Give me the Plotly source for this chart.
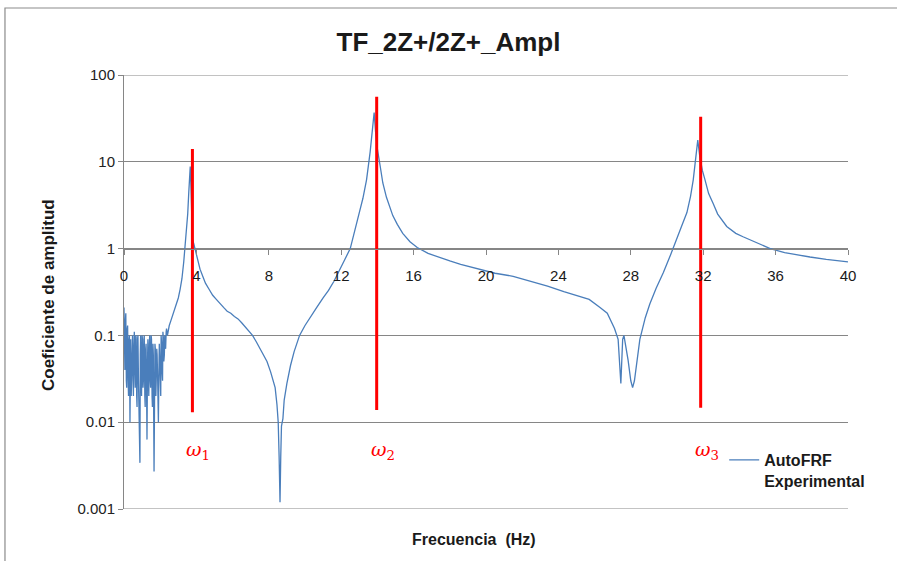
import plotly.graph_objects as go
import math

# ---- data ----
freq_hz = [
    0.00, 0.03, 0.05, 0.08, 0.10, 0.13, 0.15, 0.18, 0.20, 0.23, 0.25, 0.28, 0.30, 0.33, 0.35, 0.37,
    0.40, 0.42, 0.45, 0.47, 0.50, 0.52, 0.55, 0.57, 0.60, 0.62, 0.65, 0.67, 0.70, 0.72, 0.75, 0.77,
    0.80, 0.82, 0.85, 0.88, 0.90, 0.92, 0.95, 0.97, 1.00, 1.02, 1.05, 1.07, 1.10, 1.12, 1.15, 1.17,
    1.20, 1.22, 1.25, 1.27, 1.30, 1.32, 1.35, 1.37, 1.40, 1.42, 1.45, 1.47, 1.50, 1.52, 1.55, 1.57,
    1.60, 1.62, 1.66, 1.68, 1.71, 1.73, 1.76, 1.78, 1.81, 1.83, 1.86, 1.88, 1.90, 1.93, 1.95, 1.98,
    2.00, 2.03, 2.05, 2.08, 2.10, 2.13, 2.15, 2.18, 2.20, 2.23, 2.25, 2.28, 2.30, 2.33, 2.35, 2.40,
    2.50, 2.60, 2.80, 3.00, 3.10, 3.20, 3.30, 3.37, 3.45, 3.52, 3.58, 3.62, 3.66, 3.70,
    3.74, 3.78, 3.85, 3.92, 4.00, 4.10, 4.20, 4.35, 4.50, 4.70, 4.90, 5.10, 5.30, 5.50, 5.70, 5.90,
    6.10, 6.30, 6.50, 6.70, 6.90, 7.10, 7.30, 7.50, 7.70, 7.90, 8.10, 8.25, 8.35, 8.45, 8.52, 8.57,
    8.62, 8.66, 8.70, 8.78, 8.85, 9.00, 9.20, 9.40, 9.70, 10.0, 10.3, 10.65, 11.0, 11.3, 11.6, 11.9,
    12.2, 12.5, 12.8, 13.0, 13.2, 13.4, 13.6, 13.75, 13.82, 13.9, 14.0, 14.15, 14.3, 14.5, 14.7, 14.85,
    15.1, 15.4, 15.8, 16.2, 16.8, 17.2, 17.5, 18.0, 18.6, 19.2, 19.7, 20.5, 21.5, 22.5, 23.4, 24.3,
    25.2, 25.7, 26.3, 26.7, 27.1, 27.3, 27.45, 27.55, 27.62, 27.85, 28.0, 28.1, 28.2, 28.5, 28.8, 29.05,
    29.4, 29.8, 30.2, 30.5, 30.8, 31.1, 31.3, 31.45, 31.6, 31.7, 31.8, 31.95, 32.1, 32.3, 32.55, 32.8,
    33.3, 33.8, 34.2, 35.0, 35.7, 36.5, 37.2, 37.9, 38.8, 39.9, 40.0,
]
amplitude = [
    0.21, 0.06, 0.04, 0.15, 0.18, 0.03, 0.025, 0.12, 0.13, 0.03, 0.02, 0.09, 0.10, 0.010, 0.05, 0.09,
    0.02, 0.03, 0.10, 0.10, 0.03, 0.02, 0.08, 0.11, 0.04, 0.025, 0.10, 0.095, 0.02, 0.015, 0.09, 0.10,
    0.03, 0.02, 0.012, 0.0034, 0.06, 0.10, 0.03, 0.02, 0.10, 0.09, 0.025, 0.03, 0.09, 0.10, 0.02, 0.015,
    0.07, 0.08, 0.02, 0.0063, 0.05, 0.09, 0.03, 0.02, 0.08, 0.10, 0.03, 0.025, 0.10, 0.09, 0.02, 0.015,
    0.08, 0.06, 0.0027, 0.03, 0.08, 0.07, 0.02, 0.03, 0.07, 0.06, 0.03, 0.02, 0.010, 0.04, 0.08, 0.05,
    0.03, 0.02, 0.10, 0.08, 0.04, 0.03, 0.11, 0.09, 0.05, 0.06, 0.10, 0.08, 0.07, 0.11, 0.12, 0.10,
    0.13, 0.15, 0.20, 0.27, 0.34, 0.45, 0.70, 1.0, 1.6, 2.5, 4.5, 7.0, 8.8, 5.0,
    2.0, 1.3, 1.15, 1.0, 0.85, 0.70, 0.58, 0.48, 0.40, 0.34, 0.29, 0.26, 0.23, 0.21, 0.19, 0.18,
    0.165, 0.155, 0.14, 0.125, 0.11, 0.10, 0.085, 0.072, 0.060, 0.050, 0.038, 0.030, 0.025, 0.016, 0.010, 0.004,
    0.0012, 0.004, 0.009, 0.011, 0.018, 0.028, 0.045, 0.065, 0.10, 0.13, 0.16, 0.21, 0.27, 0.33, 0.42, 0.55,
    0.75, 1.0, 1.7, 2.6, 3.8, 6.2, 13.0, 28.0, 37.0, 22.0, 14.0, 9.0, 5.7, 3.9, 2.9, 2.4,
    1.9, 1.5, 1.2, 1.03, 0.88, 0.82, 0.78, 0.72, 0.66, 0.61, 0.57, 0.52, 0.48, 0.42, 0.37, 0.32,
    0.28, 0.26, 0.21, 0.18, 0.12, 0.09, 0.028, 0.09, 0.10, 0.052, 0.030, 0.025, 0.030, 0.09, 0.16, 0.23,
    0.35, 0.53, 0.85, 1.26, 1.8, 2.6, 4.0, 6.2, 12.0, 17.8, 12.0, 8.0, 6.2, 4.3, 3.3, 2.5,
    1.8, 1.5, 1.37, 1.15, 1.0, 0.90, 0.84, 0.80, 0.75, 0.71, 0.705,
]

omega_freqs = [3.78, 13.96, 31.86]
omega_bottoms = [0.013, 0.0138, 0.0147]
omega_tops = [14.0, 56.0, 33.0]
omega_labels = ["1", "2", "3"]

x_ticks = [0, 4, 8, 12, 16, 20, 24, 28, 32, 36, 40]
y_ticks = [0.001, 0.01, 0.1, 1, 10, 100]
y_tick_text = ["0.001", "0.01", "0.1", "1", "10", "100"]

GRID = "#868686"
FONT = "Liberation Sans Narrow, Liberation Sans, Arial, sans-serif"

fig = go.Figure()

fig.add_trace(go.Scatter(
    x=freq_hz, y=amplitude, mode="lines",
    name="<b>AutoFRF<br>Experimental</b>",
    line=dict(color="#4A7EBB", width=1.3),
))

for f, lo, hi in zip(omega_freqs, omega_bottoms, omega_tops):
    fig.add_trace(go.Scatter(
        x=[f, f], y=[lo, hi], mode="lines", showlegend=False,
        line=dict(color="#FF0000", width=3), hoverinfo="skip",
    ))

for f, lab in zip(omega_freqs, omega_labels):
    fig.add_annotation(
        x=f, y=math.log10(0.0047), xref="x", yref="y",
        text=f"<i>ω</i><sub>{lab}</sub>", showarrow=False,
        xshift=6, font=dict(family="DejaVu Serif, Liberation Serif, serif", size=19, color="#FF0000"),
    )

# chart frame
fig.add_shape(type="rect", xref="paper", yref="paper",
              x0=-0.1644, x1=1.25, y0=-0.25, y1=1.1544,
              line=dict(color="#8C8C8C", width=1.2), layer="below")
for yv in [100, 0.001]:
    fig.add_shape(type="line", xref="paper", yref="y", x0=0, x1=1, y0=yv, y1=yv,
                  line=dict(color=GRID, width=1), layer="below")

fig.add_annotation(x=0.483, y=-0.0714, xref="paper", yref="paper",
                   xanchor="center", yanchor="middle",
                   text="<b>Frecuencia  (Hz)</b>", showarrow=False,
                   font=dict(family=FONT, size=16, color="#1a1a1a"))
fig.add_annotation(x=-0.105, y=0.493, xref="paper", yref="paper",
                   xanchor="center", yanchor="middle",
                   text="<b>Coeficiente de amplitud</b>", showarrow=False, textangle=-90,
                   font=dict(family=FONT, size=17, color="#1a1a1a"))

fig.update_layout(
    width=897, height=561,
    margin=dict(l=124, r=49, t=75, b=52, autoexpand=False),
    paper_bgcolor="white", plot_bgcolor="white",
    title=dict(text="<b>TF_2Z+/2Z+_Ampl</b>", x=0.5, xanchor="center",
               y=1 - 42 / 561, yanchor="middle",
               font=dict(family=FONT, size=26, color="#1a1a1a")),
    xaxis=dict(range=[0, 40], tickvals=x_ticks, ticktext=[str(t) for t in x_ticks],
               anchor="free", position=0.6, showgrid=False, zeroline=False,
               showline=True, linecolor=GRID, linewidth=1,
               ticks="outside", ticklen=5, tickcolor=GRID,
               ticklabelstandoff=8,
               tickfont=dict(family=FONT, size=15, color="#1a1a1a")),
    yaxis=dict(type="log", range=[-3, 2], tickvals=y_ticks, ticktext=y_tick_text,
               showgrid=True, gridcolor=GRID, gridwidth=1, zeroline=False,
               showline=True, linecolor=GRID, linewidth=1,
               ticks="outside", ticklen=5, tickcolor=GRID,
               tickfont=dict(family=FONT, size=15, color="#222")),
    legend=dict(x=0.829, y=0.152, xanchor="left", yanchor="top",
                bgcolor="rgba(0,0,0,0)", valign="top",
                font=dict(family=FONT, size=16, color="#1a1a1a")),
    showlegend=True,
)

fig.write_html("out.html", post_script="document.body.style.margin='0';",
               config={"displayModeBar": False})
